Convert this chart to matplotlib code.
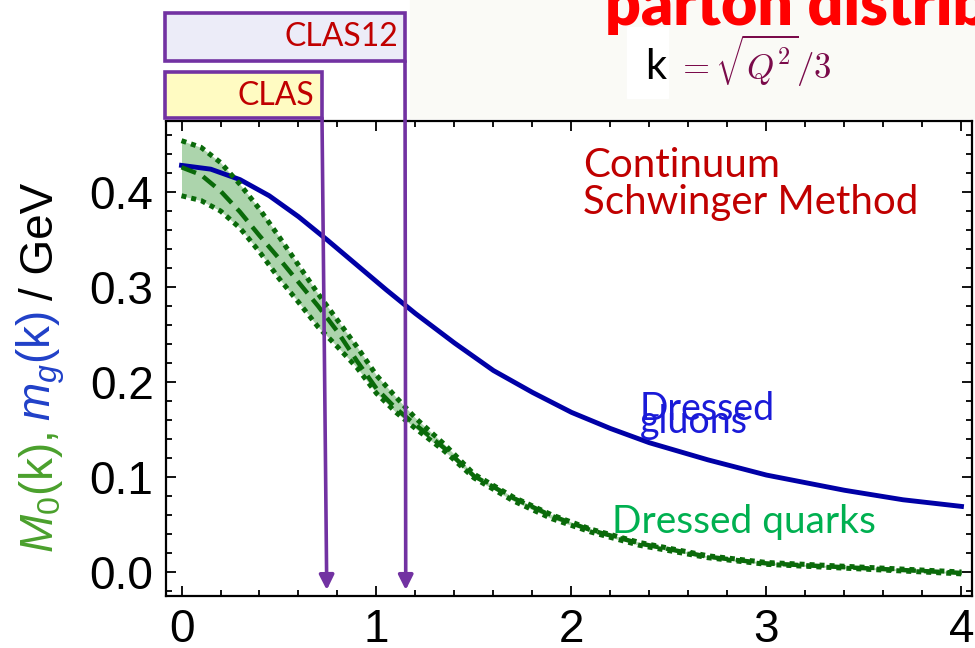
import numpy as np
import matplotlib
matplotlib.use("Agg")
import matplotlib.pyplot as plt
from matplotlib.patches import Rectangle
from matplotlib.ticker import MultipleLocator

# dressed gluon mass m_g(k)
k_g = [0.0, 0.15, 0.3, 0.45, 0.6, 0.75, 0.9, 1.05, 1.2, 1.4, 1.6, 1.8, 2.0,
       2.2, 2.4, 2.7, 3.0, 3.4, 3.7, 4.0]
m_g = [0.428, 0.424, 0.413, 0.396, 0.374, 0.349, 0.323, 0.297, 0.272, 0.241,
       0.212, 0.189, 0.168, 0.151, 0.136, 0.118, 0.102, 0.086, 0.076, 0.069]

# dressed quark mass M_0(k): central curve and band edges
k_q = [0.0, 0.1, 0.2, 0.3, 0.4, 0.5, 0.6, 0.7, 0.8, 0.9, 1.0, 1.1, 1.2, 1.35,
       1.5, 1.7, 1.9, 2.1, 2.35, 2.7, 3.0, 3.4, 3.7, 4.0]
M_mid = [0.426, 0.418, 0.401, 0.379, 0.354, 0.330, 0.305, 0.280, 0.253, 0.222,
         0.193, 0.172, 0.155, 0.130, 0.101, 0.078, 0.059, 0.044, 0.030, 0.016,
         0.009, 0.005, 0.002, -0.001]
M_hi = [0.454, 0.447, 0.431, 0.408, 0.382, 0.353, 0.323, 0.293, 0.265, 0.237,
        0.207, 0.184, 0.162, 0.134, 0.103, 0.079, 0.060, 0.045, 0.031, 0.017,
        0.010, 0.006, 0.003, 0.000]
M_lo = [0.396, 0.391, 0.380, 0.362, 0.337, 0.309, 0.284, 0.258, 0.237, 0.215,
        0.188, 0.168, 0.151, 0.127, 0.099, 0.075, 0.056, 0.042, 0.028, 0.015,
        0.008, 0.004, 0.001, -0.002]

# experiment reach in k (arrow tips)
k_clas = 0.745
k_clas12 = 1.15

x_ticks = [0, 1, 2, 3, 4]
y_ticks = [0.0, 0.1, 0.2, 0.3, 0.4]

W, H = 975, 648
plt.rcParams["mathtext.fontset"] = "custom"
plt.rcParams["mathtext.rm"] = "Liberation Sans"
plt.rcParams["mathtext.it"] = "Liberation Sans:italic"

fig = plt.figure(figsize=(W / 100, H / 100), dpi=100, facecolor="white")

def fx(px):
    return px / W

def fy(py):
    return 1 - py / H

# faint slide background strip at the top
fig.patches.append(Rectangle((fx(410), fy(118)), fx(565), 118 / H,
                             transform=fig.transFigure, color="#fafaf6", zorder=0))

ax = fig.add_axes([fx(166), fy(596), fx(972) - fx(166), (596 - 121) / H])
ax.set_xlim(-0.0795, 4.054)
ax.set_ylim(-0.0253, 0.4747)

green = "#0a6a0a"
ax.fill_between(k_q, M_lo, M_hi, color="#acd4ac", lw=0, zorder=1)
ax.plot(k_g, m_g, color="#0000a6", lw=3.5, zorder=2)
ax.plot(k_q, M_hi, color=green, lw=3.6, ls=(0, (1, 1)), zorder=3)
ax.plot(k_q, M_lo, color=green, lw=3.6, ls=(0, (1, 1)), zorder=3)
ax.plot(k_q, M_mid, color=green, lw=3.2, ls=(0, (3.5, 1.8)), zorder=3)

ax.set_xticks(x_ticks)
ax.set_yticks(y_ticks)
ax.set_yticklabels([f"{v:.1f}" for v in y_ticks])
ax.xaxis.set_minor_locator(MultipleLocator(0.2))
ax.yaxis.set_minor_locator(MultipleLocator(0.02))
ax.tick_params(which="both", direction="in", top=True, right=True, width=1.3)
ax.tick_params(which="major", length=7, labelsize=33, pad=9)
ax.tick_params(which="minor", length=4)
for lab in ax.get_xticklabels() + ax.get_yticklabels():
    lab.set_fontfamily("Liberation Sans")
for sp in ax.spines.values():
    sp.set_linewidth(1.6)

# curve annotations
ax.text(2.06, 0.447, "Continuum\nSchwinger Method", color="#c00000",
        fontsize=29, family="Lato", ha="left", va="top", linespacing=1.0)
ax.text(2.35, 0.160, "Dressed", color="#1a1ad8", fontsize=27, family="Lato",
        ha="left", va="baseline")
ax.text(2.35, 0.146, "gluons", color="#1a1ad8", fontsize=27, family="Lato",
        ha="left", va="baseline")
ax.text(2.21, 0.041, "Dressed quarks", color="#00b050", fontsize=28,
        family="Lato", ha="left", va="baseline")

# multicoloured y label, stacked bottom to top
parts = [("$M_\\mathrm{0}$(k),", "#4aa02c"), ("$m_g$(k)", "#2040c8"),
         ("/ GeV", "black")]
fig.canvas.draw()
renderer = fig.canvas.get_renderer()
ypos = 553
for txt, col in parts:
    t = fig.text(fx(41), fy(ypos), txt, color=col, fontsize=33,
                 family="Liberation Sans", rotation=90, rotation_mode="anchor",
                 ha="left", va="center")
    ext = t.get_window_extent(renderer)
    ypos -= ext.height + 11

# experiment boxes
purple = "#7232a2"
fig.patches.append(Rectangle((fx(165), fy(61)), fx(405) - fx(165), 48 / H,
                             transform=fig.transFigure, facecolor="#ececf8",
                             edgecolor=purple, lw=2.6, zorder=5))
fig.patches.append(Rectangle((fx(165), fy(118)), fx(322) - fx(165), 46 / H,
                             transform=fig.transFigure, facecolor="#fffbc2",
                             edgecolor=purple, lw=2.6, zorder=5))
fig.text(fx(398), fy(37), "CLAS12", color="#c00000", fontsize=23,
         family="Lato", ha="right", va="center", zorder=6)
fig.text(fx(314), fy(96), "CLAS", color="#c00000", fontsize=23,
         family="Lato", ha="right", va="center", zorder=6)

arrow = dict(arrowstyle="-|>", color=purple, lw=2.6, mutation_scale=22,
             shrinkA=0, shrinkB=0)
ax.annotate("", xy=(k_clas, -0.019), xycoords="data",
            xytext=(322, H - 118), textcoords="figure pixels",
            arrowprops=arrow, annotation_clip=False, zorder=6)
ax.annotate("", xy=(k_clas12, -0.019), xycoords="data",
            xytext=(405, H - 61), textcoords="figure pixels",
            arrowprops=arrow, annotation_clip=False, zorder=6)

# slide title fragment and the k definition
fig.text(fx(605), fy(25), "parton distributions", color="#ff0000",
         fontsize=45, family="Lato", weight="heavy", ha="left", va="baseline")
fig.patches.append(Rectangle((fx(627), fy(98)), fx(41), 71 / H,
                             transform=fig.transFigure, color="white", zorder=1))
fig.text(fx(645), fy(79), "k", color="black", fontsize=30, family="Lato",
         ha="left", va="baseline")
fig.text(fx(676), fy(79), r"$= \sqrt{Q^2}/3$", color="#7a0a4a", fontsize=25,
         math_fontfamily="cm", ha="left", va="baseline")

fig.savefig("out.png", dpi=100, facecolor=fig.get_facecolor())
